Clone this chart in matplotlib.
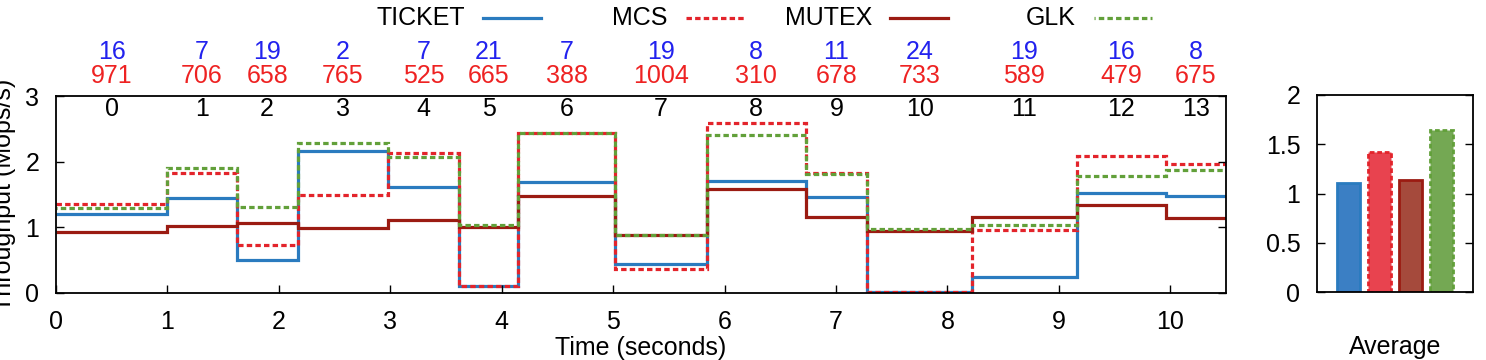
import matplotlib
matplotlib.use("Agg")
import matplotlib.pyplot as plt
from matplotlib.lines import Line2D
import matplotlib.transforms as mtransforms

plt.rcParams['font.family'] = ['Liberation Sans', 'DejaVu Sans']
plt.rcParams['font.size'] = 18

# phase boundaries (seconds) and per-phase annotations
edges = [0, 1.0, 1.62, 2.17, 2.98, 3.62, 4.15, 5.02, 5.84, 6.73, 7.28, 8.22, 9.16, 9.96, 10.6]
phase_ids = list(range(14))
blue_counts = [16, 7, 19, 2, 7, 21, 7, 19, 8, 11, 24, 19, 16, 8]
red_counts = [971, 706, 658, 765, 525, 665, 388, 1004, 310, 678, 733, 589, 479, 675]

# throughput per phase (Mops/s)
ticket = [1.21, 1.45, 0.51, 2.17, 1.62, 0.10, 1.69, 0.44, 1.70, 1.46, 0.02, 0.25, 1.52, 1.47]
mcs = [1.36, 1.83, 0.73, 1.50, 2.13, 0.10, 2.44, 0.36, 2.59, 1.83, 0.02, 0.96, 2.09, 1.97]
mutex = [0.93, 1.02, 1.07, 0.99, 1.11, 1.01, 1.47, 0.88, 1.59, 1.16, 0.95, 1.15, 1.34, 1.14]
glk = [1.30, 1.91, 1.31, 2.29, 2.07, 1.03, 2.44, 0.88, 2.40, 1.81, 0.97, 1.04, 1.78, 1.87]

names = ['TICKET', 'MCS', 'MUTEX', 'GLK']
averages = [1.11, 1.42, 1.14, 1.64]

line_colors = ['#2a7bbf', '#e3242b', '#9b1b12', '#62a03a']
fill_colors = ['#3b7fc4', '#e8434f', '#a54a3c', '#74a853']
styles = ['-', (0, (1.7, 1.0)), '-', (1.35, (1.7, 1.0))]

fig = plt.figure(figsize=(14.86, 3.6), dpi=100)
ax = fig.add_axes([56 / 1486, 1 - 293 / 360, 1170 / 1486, 197 / 360])
ax2 = fig.add_axes([1317 / 1486, 1 - 292 / 360, 156 / 1486, 197 / 360])

for vals, c, ls in zip([ticket, mcs, mutex, glk], line_colors, styles):
    ax.stairs(vals, edges, baseline=None, color=c, linestyle=ls, linewidth=2.3)

ax.set_xlim(0, 10.5)
ax.set_ylim(0, 3)
ax.set_xticks(range(11))
ax.set_yticks([0, 1, 2, 3])
ax.tick_params(direction='in', length=6, width=1, top=False, right=True, pad=12)
ax.tick_params(axis='y', pad=12)
for s in ax.spines.values():
    s.set_linewidth(1.3)
ax.set_xlabel('Time (seconds)', labelpad=2)
ax.set_ylabel('Throughput (Mops/s)')
ax.yaxis.set_label_coords(-0.034, 0.5)

trans = mtransforms.blended_transform_factory(ax.transData, ax.transAxes)
for i in phase_ids:
    mid = (edges[i] + min(edges[i + 1], 10.5)) / 2
    ax.text(mid, 0.934, str(i), transform=trans, ha='center', va='center', color='black')
    ax.text(mid, 1.10, str(red_counts[i]), transform=trans, ha='center', va='center', color='#ee2222')
    ax.text(mid, 1.223, str(blue_counts[i]), transform=trans, ha='center', va='center', color='#2222ee')

# legend, gnuplot style: label then sample
leg_text_right = [465, 668, 872, 1076]
for name, c, ls, xr in zip(names, line_colors, styles, leg_text_right):
    fig.text(xr / 1486, 1 - 18 / 360, name, ha='right', va='center')
    fig.add_artist(Line2D([(xr + 18) / 1486, (xr + 76) / 1486], [1 - 18 / 360] * 2,
                          transform=fig.transFigure, color=c, linestyle=ls, linewidth=2.3))

# average bars
for i, (v, fc, ec, ls) in enumerate(zip(averages, fill_colors, line_colors, styles)):
    ax2.bar(i + 1, v, width=0.73, color=fc, edgecolor=ec, linewidth=2, linestyle=ls)
ax2.set_xlim(0, 5)
ax2.set_ylim(0, 2)
ax2.set_xticks([])
ax2.set_yticks([0, 0.5, 1, 1.5, 2])
ax2.set_yticklabels(['0', '0.5', '1', '1.5', '2'])
ax2.tick_params(direction='in', length=6, width=1, right=True, pad=12)
for s in ax2.spines.values():
    s.set_linewidth(1.3)
ax2.set_xlabel('Average', labelpad=31)

fig.savefig('out.png', dpi=100)
